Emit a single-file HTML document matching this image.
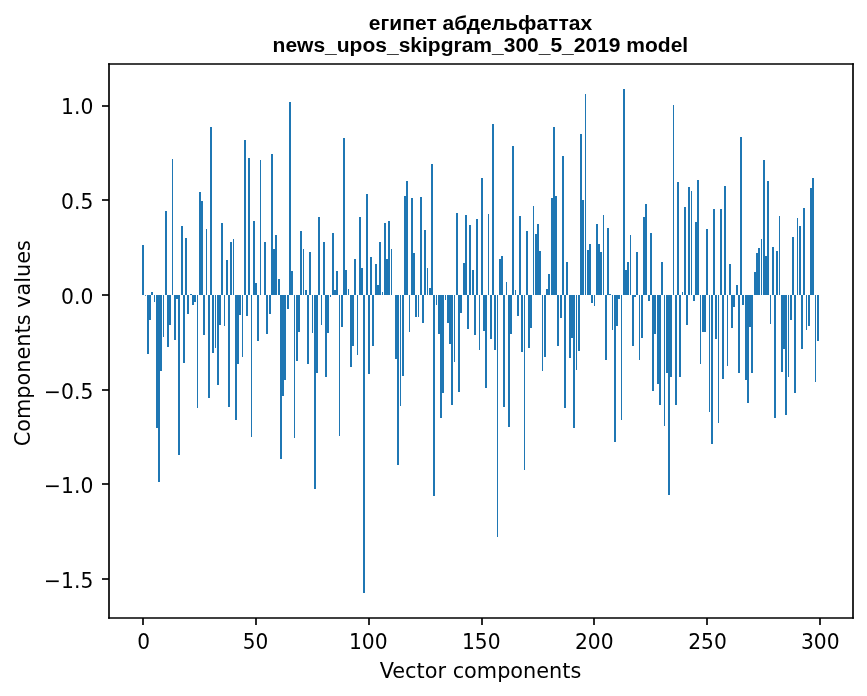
<!DOCTYPE html>
<html><head><meta charset="utf-8"><title>plot</title>
<style>html,body{margin:0;padding:0;background:#fff}svg{display:block}text{font-family:"DejaVu Sans","Liberation Sans",sans-serif;fill:#000}.t{font-family:"Liberation Sans","DejaVu Sans",sans-serif;font-weight:bold;font-size:20.83px}</style></head><body>
<svg width="867" height="696" viewBox="0 0 867 696">
<rect width="867" height="696" fill="#fff"/>
<g fill="#1f77b4" shape-rendering="crispEdges">
<rect x="142" y="245" width="2" height="50"/>
<rect x="145" y="295" width="1" height="1" fill-opacity="0.8"/>
<rect x="147" y="295" width="2" height="59"/>
<rect x="149" y="295" width="2" height="25"/>
<rect x="151" y="292" width="2" height="3"/>
<rect x="154" y="295" width="1" height="7"/>
<rect x="156" y="295" width="2" height="133"/>
<rect x="158" y="295" width="2" height="187"/>
<rect x="160" y="295" width="2" height="76"/>
<rect x="163" y="295" width="1" height="42"/>
<rect x="165" y="211" width="2" height="84"/>
<rect x="167" y="295" width="2" height="52"/>
<rect x="169" y="295" width="2" height="30"/>
<rect x="172" y="159" width="1" height="136"/>
<rect x="174" y="295" width="2" height="45"/>
<rect x="176" y="295" width="2" height="4"/>
<rect x="178" y="295" width="2" height="160"/>
<rect x="181" y="226" width="2" height="69"/>
<rect x="183" y="295" width="2" height="68"/>
<rect x="185" y="238" width="2" height="57"/>
<rect x="187" y="295" width="2" height="19"/>
<rect x="190" y="294" width="2" height="1"/>
<rect x="192" y="295" width="2" height="10"/>
<rect x="194" y="295" width="2" height="7"/>
<rect x="197" y="295" width="1" height="113"/>
<rect x="199" y="192" width="2" height="103"/>
<rect x="201" y="201" width="2" height="94"/>
<rect x="203" y="295" width="2" height="40"/>
<rect x="206" y="229" width="1" height="66"/>
<rect x="208" y="295" width="2" height="103"/>
<rect x="210" y="127" width="2" height="168"/>
<rect x="212" y="295" width="2" height="58"/>
<rect x="215" y="295" width="1" height="53"/>
<rect x="217" y="295" width="2" height="90"/>
<rect x="219" y="295" width="2" height="30"/>
<rect x="221" y="223" width="2" height="72"/>
<rect x="224" y="295" width="1" height="31"/>
<rect x="226" y="260" width="2" height="35"/>
<rect x="228" y="295" width="2" height="112"/>
<rect x="230" y="242" width="2" height="53"/>
<rect x="233" y="239" width="1" height="56"/>
<rect x="235" y="295" width="2" height="125"/>
<rect x="237" y="295" width="2" height="69"/>
<rect x="239" y="295" width="2" height="20"/>
<rect x="242" y="295" width="1" height="62"/>
<rect x="244" y="140" width="2" height="155"/>
<rect x="246" y="295" width="2" height="21"/>
<rect x="248" y="158" width="2" height="137"/>
<rect x="251" y="295" width="1" height="142"/>
<rect x="253" y="221" width="2" height="74"/>
<rect x="255" y="283" width="2" height="12"/>
<rect x="257" y="295" width="2" height="46"/>
<rect x="260" y="160" width="1" height="135"/>
<rect x="264" y="242" width="2" height="53"/>
<rect x="266" y="295" width="2" height="39"/>
<rect x="269" y="295" width="2" height="19"/>
<rect x="271" y="154" width="2" height="141"/>
<rect x="273" y="249" width="2" height="46"/>
<rect x="275" y="235" width="2" height="60"/>
<rect x="278" y="279" width="2" height="16"/>
<rect x="280" y="295" width="2" height="164"/>
<rect x="282" y="295" width="2" height="101"/>
<rect x="284" y="295" width="2" height="85"/>
<rect x="287" y="295" width="2" height="14"/>
<rect x="289" y="102" width="2" height="193"/>
<rect x="291" y="271" width="2" height="24"/>
<rect x="294" y="295" width="1" height="143"/>
<rect x="296" y="295" width="2" height="66"/>
<rect x="298" y="295" width="2" height="37"/>
<rect x="300" y="231" width="2" height="64"/>
<rect x="303" y="249" width="1" height="46"/>
<rect x="305" y="290" width="2" height="5"/>
<rect x="307" y="295" width="2" height="69"/>
<rect x="309" y="252" width="2" height="43"/>
<rect x="312" y="295" width="1" height="38"/>
<rect x="314" y="295" width="2" height="194"/>
<rect x="316" y="295" width="2" height="78"/>
<rect x="318" y="217" width="2" height="78"/>
<rect x="321" y="295" width="1" height="30"/>
<rect x="323" y="242" width="2" height="53"/>
<rect x="325" y="295" width="2" height="82"/>
<rect x="327" y="295" width="2" height="38"/>
<rect x="330" y="295" width="1" height="2"/>
<rect x="332" y="233" width="2" height="62"/>
<rect x="334" y="290" width="2" height="5"/>
<rect x="336" y="271" width="2" height="24"/>
<rect x="339" y="295" width="1" height="141"/>
<rect x="341" y="295" width="2" height="32"/>
<rect x="343" y="138" width="2" height="157"/>
<rect x="345" y="270" width="2" height="25"/>
<rect x="348" y="289" width="1" height="6"/>
<rect x="350" y="295" width="2" height="72"/>
<rect x="352" y="295" width="2" height="51"/>
<rect x="354" y="259" width="2" height="36"/>
<rect x="357" y="295" width="1" height="60"/>
<rect x="359" y="217" width="2" height="78"/>
<rect x="361" y="268" width="2" height="27"/>
<rect x="363" y="295" width="2" height="298"/>
<rect x="366" y="194" width="2" height="101"/>
<rect x="368" y="295" width="2" height="79"/>
<rect x="370" y="257" width="2" height="38"/>
<rect x="372" y="295" width="2" height="51"/>
<rect x="375" y="264" width="2" height="31"/>
<rect x="377" y="285" width="2" height="10"/>
<rect x="379" y="242" width="2" height="53"/>
<rect x="382" y="292" width="1" height="3"/>
<rect x="384" y="223" width="2" height="72"/>
<rect x="386" y="259" width="2" height="36"/>
<rect x="388" y="221" width="2" height="74"/>
<rect x="391" y="249" width="1" height="46"/>
<rect x="395" y="295" width="2" height="64"/>
<rect x="397" y="295" width="2" height="170"/>
<rect x="400" y="295" width="1" height="111"/>
<rect x="402" y="295" width="2" height="81"/>
<rect x="404" y="196" width="2" height="99"/>
<rect x="406" y="181" width="2" height="114"/>
<rect x="409" y="295" width="1" height="37"/>
<rect x="411" y="198" width="2" height="97"/>
<rect x="413" y="253" width="2" height="42"/>
<rect x="415" y="295" width="2" height="22"/>
<rect x="418" y="295" width="1" height="22"/>
<rect x="420" y="197" width="2" height="98"/>
<rect x="422" y="295" width="2" height="28"/>
<rect x="424" y="230" width="2" height="65"/>
<rect x="427" y="268" width="1" height="27"/>
<rect x="429" y="288" width="2" height="7"/>
<rect x="431" y="164" width="2" height="131"/>
<rect x="433" y="295" width="2" height="201"/>
<rect x="436" y="295" width="1" height="10"/>
<rect x="438" y="295" width="2" height="39"/>
<rect x="440" y="295" width="2" height="123"/>
<rect x="442" y="295" width="2" height="98"/>
<rect x="445" y="295" width="1" height="5"/>
<rect x="447" y="295" width="2" height="28"/>
<rect x="449" y="295" width="2" height="49"/>
<rect x="451" y="295" width="2" height="110"/>
<rect x="454" y="295" width="1" height="67"/>
<rect x="456" y="213" width="2" height="82"/>
<rect x="458" y="295" width="2" height="97"/>
<rect x="460" y="295" width="2" height="18"/>
<rect x="463" y="263" width="2" height="32"/>
<rect x="465" y="215" width="2" height="80"/>
<rect x="467" y="295" width="2" height="34"/>
<rect x="469" y="225" width="2" height="70"/>
<rect x="472" y="270" width="2" height="25"/>
<rect x="474" y="295" width="2" height="40"/>
<rect x="476" y="219" width="2" height="76"/>
<rect x="479" y="295" width="1" height="55"/>
<rect x="481" y="178" width="2" height="117"/>
<rect x="483" y="295" width="2" height="36"/>
<rect x="485" y="295" width="2" height="93"/>
<rect x="488" y="214" width="1" height="81"/>
<rect x="490" y="295" width="2" height="44"/>
<rect x="492" y="124" width="2" height="171"/>
<rect x="494" y="295" width="2" height="55"/>
<rect x="497" y="295" width="1" height="242"/>
<rect x="499" y="259" width="2" height="36"/>
<rect x="501" y="256" width="2" height="39"/>
<rect x="503" y="295" width="2" height="112"/>
<rect x="506" y="282" width="1" height="13"/>
<rect x="508" y="295" width="2" height="132"/>
<rect x="510" y="295" width="2" height="39"/>
<rect x="512" y="146" width="2" height="149"/>
<rect x="515" y="290" width="1" height="5"/>
<rect x="517" y="295" width="2" height="21"/>
<rect x="519" y="216" width="2" height="79"/>
<rect x="521" y="295" width="2" height="57"/>
<rect x="524" y="295" width="1" height="175"/>
<rect x="526" y="231" width="2" height="64"/>
<rect x="528" y="295" width="2" height="53"/>
<rect x="530" y="295" width="2" height="33"/>
<rect x="533" y="206" width="1" height="89"/>
<rect x="535" y="234" width="2" height="61"/>
<rect x="537" y="224" width="2" height="71"/>
<rect x="539" y="251" width="2" height="44"/>
<rect x="542" y="295" width="1" height="76"/>
<rect x="544" y="295" width="2" height="62"/>
<rect x="546" y="289" width="2" height="6"/>
<rect x="548" y="274" width="2" height="21"/>
<rect x="551" y="198" width="2" height="97"/>
<rect x="553" y="127" width="2" height="168"/>
<rect x="555" y="196" width="2" height="99"/>
<rect x="557" y="295" width="2" height="51"/>
<rect x="560" y="295" width="2" height="23"/>
<rect x="562" y="156" width="2" height="139"/>
<rect x="564" y="295" width="2" height="113"/>
<rect x="566" y="262" width="2" height="33"/>
<rect x="569" y="295" width="2" height="63"/>
<rect x="571" y="295" width="2" height="43"/>
<rect x="573" y="295" width="2" height="133"/>
<rect x="576" y="295" width="1" height="75"/>
<rect x="578" y="295" width="2" height="56"/>
<rect x="580" y="134" width="2" height="161"/>
<rect x="582" y="200" width="2" height="95"/>
<rect x="585" y="94" width="1" height="201"/>
<rect x="587" y="250" width="2" height="45"/>
<rect x="589" y="244" width="2" height="51"/>
<rect x="591" y="295" width="2" height="8"/>
<rect x="594" y="295" width="1" height="11"/>
<rect x="596" y="224" width="2" height="71"/>
<rect x="598" y="244" width="2" height="51"/>
<rect x="600" y="252" width="2" height="43"/>
<rect x="603" y="215" width="1" height="80"/>
<rect x="605" y="295" width="2" height="65"/>
<rect x="607" y="228" width="2" height="67"/>
<rect x="609" y="294" width="2" height="1"/>
<rect x="612" y="295" width="1" height="35"/>
<rect x="614" y="295" width="2" height="147"/>
<rect x="616" y="295" width="2" height="31"/>
<rect x="618" y="295" width="2" height="4"/>
<rect x="621" y="295" width="1" height="125"/>
<rect x="623" y="89" width="2" height="206"/>
<rect x="625" y="270" width="2" height="25"/>
<rect x="627" y="262" width="2" height="33"/>
<rect x="630" y="235" width="1" height="60"/>
<rect x="632" y="295" width="2" height="51"/>
<rect x="634" y="295" width="2" height="2"/>
<rect x="636" y="252" width="2" height="43"/>
<rect x="639" y="295" width="1" height="65"/>
<rect x="641" y="295" width="2" height="43"/>
<rect x="643" y="217" width="2" height="78"/>
<rect x="645" y="204" width="2" height="91"/>
<rect x="648" y="295" width="2" height="6"/>
<rect x="650" y="233" width="2" height="62"/>
<rect x="652" y="295" width="2" height="96"/>
<rect x="654" y="295" width="2" height="39"/>
<rect x="657" y="295" width="2" height="89"/>
<rect x="659" y="295" width="2" height="110"/>
<rect x="661" y="262" width="2" height="33"/>
<rect x="664" y="295" width="1" height="131"/>
<rect x="666" y="295" width="2" height="78"/>
<rect x="668" y="295" width="2" height="200"/>
<rect x="670" y="295" width="2" height="82"/>
<rect x="673" y="105" width="1" height="190"/>
<rect x="675" y="295" width="2" height="110"/>
<rect x="677" y="182" width="2" height="113"/>
<rect x="679" y="295" width="2" height="82"/>
<rect x="682" y="292" width="1" height="3"/>
<rect x="684" y="207" width="2" height="88"/>
<rect x="686" y="295" width="2" height="30"/>
<rect x="688" y="187" width="2" height="108"/>
<rect x="691" y="191" width="1" height="104"/>
<rect x="693" y="295" width="2" height="6"/>
<rect x="695" y="222" width="2" height="73"/>
<rect x="697" y="180" width="2" height="115"/>
<rect x="700" y="295" width="1" height="69"/>
<rect x="702" y="295" width="2" height="37"/>
<rect x="704" y="295" width="2" height="37"/>
<rect x="706" y="229" width="2" height="66"/>
<rect x="709" y="295" width="1" height="117"/>
<rect x="711" y="295" width="2" height="149"/>
<rect x="713" y="209" width="2" height="86"/>
<rect x="715" y="295" width="2" height="44"/>
<rect x="718" y="295" width="1" height="128"/>
<rect x="720" y="209" width="2" height="86"/>
<rect x="722" y="295" width="2" height="84"/>
<rect x="724" y="186" width="2" height="109"/>
<rect x="727" y="295" width="1" height="71"/>
<rect x="729" y="264" width="2" height="31"/>
<rect x="731" y="295" width="2" height="33"/>
<rect x="733" y="295" width="2" height="12"/>
<rect x="736" y="285" width="2" height="10"/>
<rect x="738" y="295" width="2" height="78"/>
<rect x="740" y="137" width="2" height="158"/>
<rect x="742" y="295" width="2" height="10"/>
<rect x="745" y="295" width="2" height="85"/>
<rect x="747" y="295" width="2" height="108"/>
<rect x="749" y="295" width="2" height="32"/>
<rect x="751" y="295" width="2" height="78"/>
<rect x="754" y="272" width="2" height="23"/>
<rect x="756" y="253" width="2" height="42"/>
<rect x="758" y="248" width="2" height="47"/>
<rect x="761" y="239" width="1" height="56"/>
<rect x="763" y="160" width="2" height="135"/>
<rect x="765" y="256" width="2" height="39"/>
<rect x="767" y="181" width="2" height="114"/>
<rect x="770" y="295" width="1" height="29"/>
<rect x="772" y="247" width="2" height="48"/>
<rect x="774" y="295" width="2" height="123"/>
<rect x="776" y="251" width="2" height="44"/>
<rect x="779" y="216" width="1" height="79"/>
<rect x="781" y="295" width="2" height="77"/>
<rect x="783" y="295" width="2" height="54"/>
<rect x="785" y="295" width="2" height="120"/>
<rect x="788" y="295" width="1" height="82"/>
<rect x="790" y="295" width="2" height="25"/>
<rect x="792" y="237" width="2" height="58"/>
<rect x="794" y="295" width="2" height="98"/>
<rect x="797" y="218" width="1" height="77"/>
<rect x="799" y="226" width="2" height="69"/>
<rect x="801" y="295" width="2" height="54"/>
<rect x="803" y="208" width="2" height="87"/>
<rect x="806" y="295" width="1" height="35"/>
<rect x="808" y="295" width="2" height="31"/>
<rect x="810" y="188" width="2" height="107"/>
<rect x="812" y="178" width="2" height="117"/>
<rect x="815" y="295" width="1" height="87"/>
<rect x="817" y="295" width="2" height="46"/>
</g>
<g stroke="#000" stroke-width="1.67" stroke-linecap="square"><line x1="109" y1="64" x2="109" y2="618"/><line x1="853" y1="64" x2="853" y2="618"/><line x1="109" y1="618" x2="853" y2="618"/><line x1="109" y1="64" x2="853" y2="64"/></g>
<g stroke="#000" stroke-width="1.67">
<line x1="143" y1="618" x2="143" y2="625.0"/>
<line x1="256" y1="618" x2="256" y2="625.0"/>
<line x1="369" y1="618" x2="369" y2="625.0"/>
<line x1="482" y1="618" x2="482" y2="625.0"/>
<line x1="594" y1="618" x2="594" y2="625.0"/>
<line x1="707" y1="618" x2="707" y2="625.0"/>
<line x1="820" y1="618" x2="820" y2="625.0"/>
<line x1="102.0" y1="106" x2="109" y2="106"/>
<line x1="102.0" y1="200" x2="109" y2="200"/>
<line x1="102.0" y1="295" x2="109" y2="295"/>
<line x1="102.0" y1="390" x2="109" y2="390"/>
<line x1="102.0" y1="484" x2="109" y2="484"/>
<line x1="102.0" y1="579" x2="109" y2="579"/>
</g>
<g font-size="20.83px">
<text transform="translate(143.7,649.4) scale(0.965,1)" text-anchor="middle">0</text>
<text transform="translate(255.6,649.4) scale(0.965,1)" text-anchor="middle">50</text>
<text transform="translate(368.3,649.4) scale(0.972,1)" text-anchor="middle">100</text>
<text transform="translate(481.2,649.4) scale(0.972,1)" text-anchor="middle">150</text>
<text transform="translate(594.2,649.4) scale(0.972,1)" text-anchor="middle">200</text>
<text transform="translate(707.5,649.4) scale(0.972,1)" text-anchor="middle">250</text>
<text transform="translate(820.2,649.4) scale(0.972,1)" text-anchor="middle">300</text>
<text transform="translate(93.3,114) scale(0.975,1)" text-anchor="end">1.0</text>
<text transform="translate(93.3,209) scale(0.975,1)" text-anchor="end">0.5</text>
<text transform="translate(93.3,304) scale(0.975,1)" text-anchor="end">0.0</text>
<text transform="translate(93.3,399) scale(0.975,1)" text-anchor="end">−0.5</text>
<text transform="translate(93.3,493) scale(0.975,1)" text-anchor="end">−1.0</text>
<text transform="translate(93.3,588) scale(0.975,1)" text-anchor="end">−1.5</text>
<text x="480.5" y="678" text-anchor="middle">Vector components</text>
<text transform="translate(30,343.2) rotate(-90)" text-anchor="middle">Components values</text>
</g>
<text class="t" transform="translate(480.5,29.5) scale(1.0105,1)" text-anchor="middle">египет абдельфаттах</text>
<text class="t" transform="translate(480.4,52) scale(1.0093,1)" text-anchor="middle">news_upos_skipgram_300_5_2019 model</text>
</svg>
</body></html>
